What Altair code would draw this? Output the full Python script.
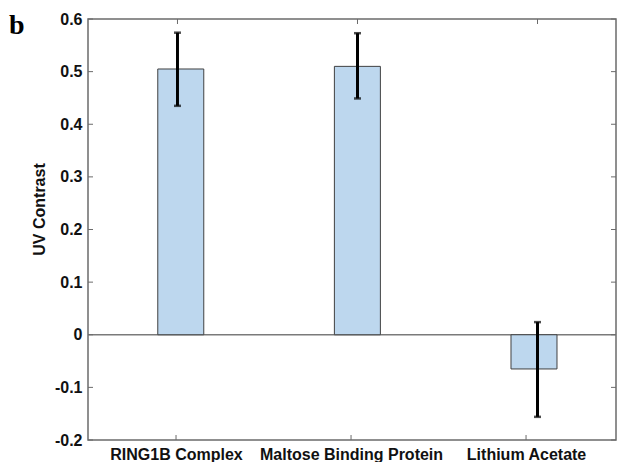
import json
import altair as alt
import pandas as pd

categories = ["RING1B Complex", "Maltose Binding Protein", "Lithium Acetate"]
values = [0.505, 0.510, -0.065]
lower = [0.435, 0.449, -0.156]
upper = [0.574, 0.573, 0.024]
y_ticks = [-0.2, -0.1, 0.0, 0.1, 0.2, 0.3, 0.4, 0.5, 0.6]

df = pd.DataFrame({
    "category": categories,
    "pos": list(range(1, len(categories) + 1)),
    "value": values,
    "lower": lower,
    "upper": upper,
})
ticks_df = pd.DataFrame({"t": y_ticks})
zero_df = pd.DataFrame({"z": [0.0]})

W, H = 528, 421
FONT = "Liberation Sans"
FRAME = "#6b6b6b"

XB = alt.Scale(domain=[0.503, 3.436], nice=False, zero=False)
XA = alt.Scale(domain=[0.497, 3.514], nice=False, zero=False)
YS = alt.Scale(domain=[-0.2, 0.6], nice=False, zero=False)

y_axis = alt.Axis(
    values=y_ticks,
    labelExpr="toString(round(datum.value*10)/10)",
    labelFont=FONT, labelFontSize=16, labelFontWeight="bold", labelColor="#111",
    title="UV Contrast",
    titleFont=FONT, titleFontSize=16, titleFontWeight="bold", titleColor="#111",
    titleY=190, titleX=-44, titleAngle=-90, titleBaseline="alphabetic", titleAlign="center",
    domain=False, ticks=False, tickSize=0, grid=False, labelPadding=6,
)

zero_rule = alt.Chart(zero_df).mark_rule(color="#7a7a7a", strokeWidth=1.5).encode(
    y=alt.Y("z:Q", scale=YS, axis=y_axis)
)

bars = alt.Chart(df).mark_bar(size=46, color="#BDD7EE", stroke="#404040", strokeWidth=1).encode(
    x=alt.X("pos:Q", scale=XB, axis=None),
    y=alt.Y("value:Q", scale=YS, axis=y_axis),
    y2=alt.datum(0),
)

err = alt.Chart(df).mark_rule(color="black", strokeWidth=3).encode(
    x=alt.X("pos:Q", scale=XB, axis=None),
    y=alt.Y("lower:Q", scale=YS, axis=y_axis),
    y2="upper:Q",
)
cap_hi = alt.Chart(df).mark_tick(orient="horizontal", size=7, thickness=2.5, color="black").encode(
    x=alt.X("pos:Q", scale=XB, axis=None),
    y=alt.Y("upper:Q", scale=YS, axis=y_axis),
)
cap_lo = alt.Chart(df).mark_tick(orient="horizontal", size=7, thickness=2.5, color="black").encode(
    x=alt.X("pos:Q", scale=XB, axis=None),
    y=alt.Y("lower:Q", scale=YS, axis=y_axis),
)

# inward ticks
top_ticks = alt.Chart(df).mark_rule(color=FRAME, strokeWidth=1).encode(
    x=alt.X("pos:Q", scale=XB, axis=None),
    y=alt.value(0), y2=alt.value(5),
)
bottom_ticks = alt.Chart(df).mark_rule(color=FRAME, strokeWidth=1).encode(
    x=alt.X("pos:Q", scale=XA, axis=alt.Axis(
        orient="bottom", values=list(range(1, len(categories) + 1)),
        labelExpr=json.dumps(categories) + "[datum.value - 1]",
        labelFont=FONT, labelFontSize=16, labelFontWeight="bold", labelColor="#111",
        labelLimit=400, labelOverlap=False,
        title=None, domain=False, ticks=False, tickSize=0, grid=False, labelPadding=6,
    )),
    y=alt.value(H - 5), y2=alt.value(H),
)
left_ticks = alt.Chart(ticks_df).mark_rule(color=FRAME, strokeWidth=1).encode(
    y=alt.Y("t:Q", scale=YS, axis=y_axis), x=alt.value(0), x2=alt.value(5)
)
right_ticks = alt.Chart(ticks_df).mark_rule(color=FRAME, strokeWidth=1).encode(
    y=alt.Y("t:Q", scale=YS, axis=y_axis), x=alt.value(W - 5), x2=alt.value(W)
)

panel_label = alt.Chart(zero_df).mark_text(
    text="b", font="Liberation Serif", fontSize=28, fontWeight="bold", color="black",
    align="left", baseline="alphabetic",
).encode(x=alt.value(-79), y=alt.value(15))

chart = alt.layer(
    zero_rule, bars, err, cap_hi, cap_lo, top_ticks, bottom_ticks, left_ticks, right_ticks, panel_label
).resolve_scale(x="independent").properties(
    width=W, height=H,
    autosize=alt.AutoSizeParams(type="none"),
    padding={"left": 80, "top": 11, "right": 2, "bottom": 22},
).configure_view(
    stroke=FRAME, strokeWidth=1.5
)

chart.save("out.html", embed_options={"renderer": "svg", "actions": False})
